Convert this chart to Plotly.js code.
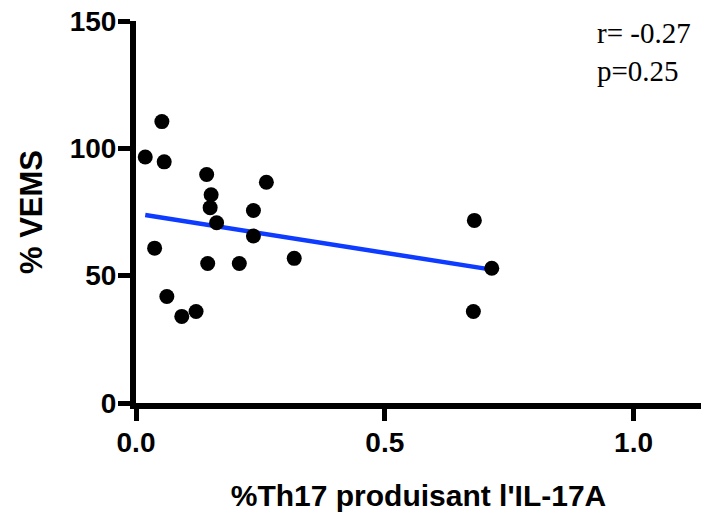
<!DOCTYPE html>
<html>
<head>
<meta charset="utf-8">
<script src="https://cdn.plot.ly/plotly-3.0.1.min.js"></script>
<style>
  html, body { margin: 0; padding: 0; background: #ffffff; }
  #chart { width: 701px; height: 512px; }
</style>
</head>
<body>
<div id="chart"></div>
<script>
// %Th17 cells producing IL-17A vs % VEMS, one value per patient
const th17Pct = [0.0186, 0.052, 0.0567, 0.0374, 0.062, 0.092, 0.1207, 0.142, 0.151, 0.149,
                 0.162, 0.1441, 0.2076, 0.236, 0.236, 0.262, 0.318, 0.680, 0.678, 0.715];
const vemsPct = [96.6, 110.5, 94.7, 60.8, 41.8, 34.0, 35.9, 89.7, 81.8, 76.7,
                 70.8, 54.8, 54.8, 75.6, 65.6, 86.7, 56.8, 71.7, 35.9, 52.9];

const xTicks = [0, 0.5, 1.0];
const xTickText = ['0.0', '0.5', '1.0'];
const yTicks = [0, 50, 100, 150];

const statsText = ['r= -0.27', 'p=0.25'];

// least-squares fit line drawn across the observed x span
function linearFit(xs, ys) {
  const n = xs.length;
  const mx = xs.reduce((a, b) => a + b, 0) / n;
  const my = ys.reduce((a, b) => a + b, 0) / n;
  let sxy = 0, sxx = 0;
  for (let i = 0; i < n; i++) {
    sxy += (xs[i] - mx) * (ys[i] - my);
    sxx += (xs[i] - mx) * (xs[i] - mx);
  }
  const slope = sxy / sxx;
  return { slope: slope, intercept: my - slope * mx };
}
const fit = linearFit(th17Pct, vemsPct);
const xMin = Math.min(...th17Pct);
const xMax = Math.max(...th17Pct);
const fitX = [xMin, xMax];
const fitY = fitX.map(x => fit.intercept + fit.slope * x);

const traces = [
  {
    x: fitX, y: fitY, type: 'scatter', mode: 'lines',
    line: { color: '#0d3bff', width: 4.5 },
    hoverinfo: 'skip', cliponaxis: false
  },
  {
    x: th17Pct, y: vemsPct, type: 'scatter', mode: 'markers',
    marker: { color: '#000000', size: 15, line: { width: 0 } },
    cliponaxis: false
  }
];

const axisFont = { family: 'Liberation Sans, Arial, sans-serif', size: 28, color: '#000000', weight: 'bold' };

const layout = {
  width: 701, height: 512,
  margin: { l: 135.5, r: 0, t: 20.5, b: 108.5 },
  paper_bgcolor: '#ffffff', plot_bgcolor: '#ffffff',
  showlegend: false,
  xaxis: {
    range: [0, 1.1355],
    tickvals: xTicks, ticktext: xTickText,
    ticks: 'outside', ticklen: 12, tickwidth: 5, tickcolor: '#000000',
    ticklabelstandoff: -3,
    showline: true, linewidth: 6, linecolor: '#000000',
    showgrid: false, zeroline: false,
    tickfont: axisFont,
    title: {
      text: "%Th17 produisant l'IL-17A",
      font: { family: 'Liberation Sans, Arial, sans-serif', size: 30, color: '#000000', weight: 'bold' },
      standoff: 32
    },
    automargin: false
  },
  yaxis: {
    range: [0, 150],
    tickvals: yTicks,
    ticks: 'outside', ticklen: 12, tickwidth: 5, tickcolor: '#000000',
    ticklabelstandoff: -4,
    showline: true, linewidth: 6, linecolor: '#000000',
    showgrid: false, zeroline: false,
    tickfont: axisFont,
    title: {
      text: '% VEMS',
      font: { family: 'Liberation Sans, Arial, sans-serif', size: 31, color: '#000000', weight: 'bold' },
      standoff: 20
    },
    automargin: false
  },
  annotations: [
    {
      xref: 'paper', yref: 'paper', x: 0.812, y: 1.017,
      xanchor: 'left', yanchor: 'top', align: 'left',
      text: statsText.join('<br>'),
      showarrow: false,
      font: { family: 'Liberation Serif, Times New Roman, serif', size: 29, color: '#000000' }
    }
  ]
};

Plotly.newPlot('chart', traces, layout, { displayModeBar: false, staticPlot: true });
</script>
</body>
</html>
